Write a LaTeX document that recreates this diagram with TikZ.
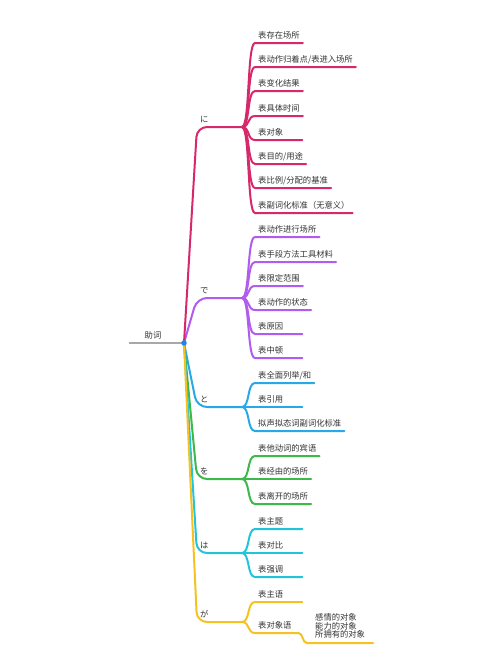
\documentclass[tikz,border=0pt]{standalone}
\usepackage{fontspec}
\newfontfamily\cjk{Noto Sans CJK SC}
\definecolor{cNi}{HTML}{D6286A}
\definecolor{cDe}{HTML}{B05CEE}
\definecolor{cTo}{HTML}{29A8E8}
\definecolor{cWo}{HTML}{3DB84A}
\definecolor{cWa}{HTML}{22C4DA}
\definecolor{cGa}{HTML}{F6C222}
\definecolor{cRoot}{HTML}{1E88E5}
\definecolor{cGray}{HTML}{A8A8A8}
\definecolor{txt}{HTML}{333333}
\newcommand{\shortlbl}[2][41pt]{\makebox[#1][l]{#2}}
\tikzset{
  lbl/.style={font=\cjk\fontsize{8.3}{10}\selectfont, text=txt, inner xsep=3pt, inner ysep=3.8pt,
              text height=7pt, text depth=1pt, anchor=south west},
  leaf/.style={lbl},
  edge/.style={line width=2pt, line cap=round},
  stem/.style={out=0, in=180, distance=8pt},
  trunk/.style={edge, rounded corners=10pt}
}
\begin{document}
\begin{tikzpicture}[x=1pt,y=-1pt]
\fill[white] (0,0) rectangle (500,667);
\useasboundingbox (0,0) rectangle (500,667);

% root
\coordinate (root) at (184,343);
\coordinate (rootL) at (129,343);
\node[lbl, anchor=south, inner xsep=1pt] (rootlabel) at (153,343) {助词};
\draw[edge, cGray, line cap=butt] (rootL) -- (root);

% ---------- に ----------
\node[lbl] (ni) at (197,127) {に};
\coordinate (pni) at (242,127);
\node[leaf] (ni1) at (255,43)  {表存在场所};
\node[leaf] (ni2) at (255,67)  {表动作归着点/表进入场所};
\node[leaf] (ni3) at (255,91)  {表变化结果};
\node[leaf] (ni4) at (255,116) {表具体时间};
\node[leaf] (ni5) at (255,140) {\shortlbl{表对象}};
\node[leaf] (ni6) at (255,164) {表目的/用途};
\node[leaf] (ni7) at (255,188) {表比例/分配的基准};
\node[leaf] (ni8) at (255,213) {表副词化标准（无意义）};
\foreach \n in {ni1,ni2,ni3,ni4,ni5,ni6,ni7,ni8}
  \draw[edge,cNi] (pni) to[stem] (\n.south west) -- (\n.south east);

% ---------- で ----------
\node[lbl] (de) at (197,298) {で};
\coordinate (pde) at (242,298);
\node[leaf] (de1) at (255,237) {表动作进行场所};
\node[leaf] (de2) at (255,262) {表手段方法工具材料};
\node[leaf] (de3) at (255,286) {表限定范围};
\node[leaf] (de4) at (255,310) {表动作的状态};
\node[leaf] (de5) at (255,334) {\shortlbl{表原因}};
\node[leaf] (de6) at (255,358) {\shortlbl{表中顿}};
\foreach \n in {de1,de2,de3,de4,de5,de6}
  \draw[edge,cDe] (pde) to[stem] (\n.south west) -- (\n.south east);

% ---------- と ----------
\node[lbl] (to) at (197,407) {と};
\coordinate (pto) at (242,407);
\node[leaf] (to1) at (255,383) {表全面列举/和};
\node[leaf] (to2) at (255,407) {\shortlbl{表引用}};
\node[leaf] (to3) at (255,431) {拟声拟态词副词化标准};
\foreach \n in {to1,to2,to3}
  \draw[edge,cTo] (pto) to[stem] (\n.south west) -- (\n.south east);

% ---------- を ----------
\node[lbl] (wo) at (197,479) {を};
\coordinate (pwo) at (242,479);
\node[leaf] (wo1) at (255,456) {表他动词的宾语};
\node[leaf] (wo2) at (255,479) {表经由的场所};
\node[leaf] (wo3) at (255,504) {表离开的场所};
\foreach \n in {wo1,wo2,wo3}
  \draw[edge,cWo] (pwo) to[stem] (\n.south west) -- (\n.south east);

% ---------- は ----------
\node[lbl] (wa) at (197,553) {は};
\coordinate (pwa) at (242,553);
\node[leaf] (wa1) at (255,529) {\shortlbl{表主题}};
\node[leaf] (wa2) at (255,553) {\shortlbl{表对比}};
\node[leaf] (wa3) at (255,577) {\shortlbl{表强调}};
\foreach \n in {wa1,wa2,wa3}
  \draw[edge,cWa] (pwa) to[stem] (\n.south west) -- (\n.south east);

% ---------- が ----------
\node[lbl] (ga) at (197,622) {が};
\coordinate (pga) at (242,622);
\node[leaf] (ga1) at (255,602) {\shortlbl{表主语}};
\node[leaf] (ga2) at (255,633) {\shortlbl[37pt]{表对象语}};
\node[font=\cjk\fontsize{8.3}{8.3}\selectfont, text=txt, align=left, anchor=south west,
      inner xsep=8pt, inner ysep=4.8pt] (ga3) at (307,643) {感情的对象\\能力的对象\\所拥有的对象};
\foreach \n in {ga1,ga2}
  \draw[edge,cGa] (pga) to[stem] (\n.south west) -- (\n.south east);
\draw[edge,cGa] (ga2.south east) to[out=0,in=180,distance=5pt] (ga3.south west) -- (ga3.south east);

% ---------- trunks ----------
\draw[trunk,cDe] (root) -- (de.south west) -- (pde);
\draw[trunk,cNi] (root) -- (ni.south west) -- (pni);
\draw[trunk,cTo] (root) -- (to.south west) -- (pto);
\draw[trunk,cWo] (root) -- (wo.south west) -- (pwo);
\draw[trunk,cWa] (root) -- (wa.south west) -- (pwa);
\draw[trunk,cGa] (root) -- (ga.south west) -- (pga);

\fill[cRoot] (root) circle (2.8pt);
\end{tikzpicture}
\end{document}
